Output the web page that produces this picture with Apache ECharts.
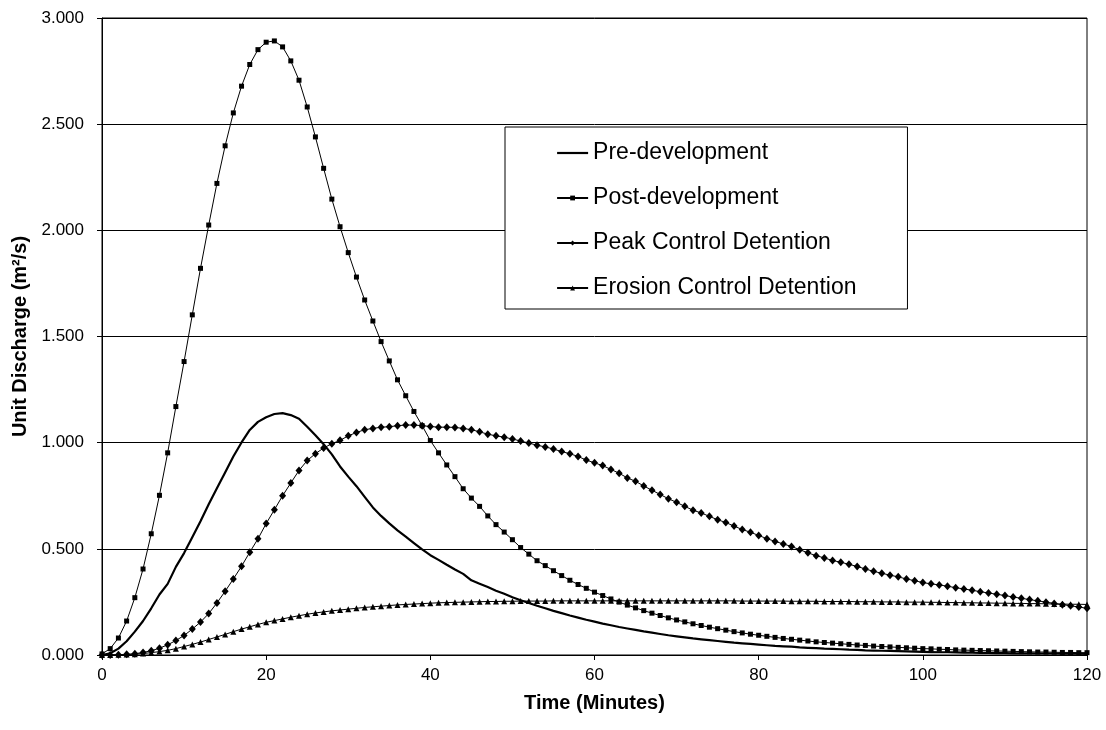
<!DOCTYPE html>
<html>
<head>
<meta charset="utf-8">
<script src="https://cdn.jsdelivr.net/npm/echarts@6/dist/echarts.min.js"></script>
<style>
html, body { margin: 0; padding: 0; background: #fff; }
#chart { width: 1106px; height: 730px; }
</style>
</head>
<body>
<div id="chart"></div>
<script>
// minutes 0..120, one reading per minute
var minutes = [];
for (var m = 0; m <= 120; m++) minutes.push(m);

var seriesNames = ['Pre-development', 'Post-development', 'Peak Control Detention', 'Erosion Control Detention'];

var preDev = [
    0.000, 0.008, 0.030, 0.065, 0.110, 0.160, 0.220, 0.285, 0.335, 0.415,
    0.480, 0.555, 0.630, 0.710, 0.785, 0.860, 0.935, 1.001, 1.060, 1.098,
    1.120, 1.135, 1.139, 1.130, 1.113, 1.075, 1.035, 0.993, 0.945, 0.888,
    0.840, 0.795, 0.745, 0.695, 0.655, 0.620, 0.587, 0.557, 0.527, 0.497,
    0.470, 0.448, 0.425, 0.403, 0.382, 0.352, 0.336, 0.320, 0.303, 0.288,
    0.272, 0.258, 0.245, 0.232, 0.220, 0.208, 0.197, 0.186, 0.176, 0.166,
    0.157, 0.148, 0.140, 0.132, 0.125, 0.118, 0.111, 0.105, 0.099, 0.093,
    0.088, 0.083, 0.078, 0.074, 0.070, 0.066, 0.062, 0.058, 0.055, 0.052,
    0.049, 0.046, 0.043, 0.041, 0.039, 0.036, 0.034, 0.032, 0.030, 0.029,
    0.027, 0.025, 0.024, 0.022, 0.021, 0.020, 0.019, 0.018, 0.017, 0.016,
    0.015, 0.014, 0.013, 0.013, 0.012, 0.011, 0.011, 0.010, 0.010, 0.009,
    0.009, 0.008, 0.008, 0.008, 0.007, 0.007, 0.007, 0.006, 0.006, 0.006,
    0.005
];

var postDev = [
    0.005, 0.030, 0.080, 0.160, 0.270, 0.405, 0.571, 0.752, 0.952, 1.170,
    1.382, 1.602, 1.821, 2.025, 2.221, 2.398, 2.553, 2.679, 2.781, 2.851,
    2.886, 2.892, 2.864, 2.798, 2.707, 2.581, 2.440, 2.292, 2.147, 2.017,
    1.895, 1.780, 1.672, 1.573, 1.476, 1.385, 1.296, 1.221, 1.147, 1.080,
    1.010, 0.952, 0.895, 0.840, 0.783, 0.739, 0.700, 0.655, 0.614, 0.579,
    0.543, 0.506, 0.475, 0.444, 0.421, 0.397, 0.374, 0.352, 0.332, 0.314,
    0.296, 0.280, 0.264, 0.249, 0.235, 0.222, 0.209, 0.197, 0.186, 0.175,
    0.165, 0.156, 0.147, 0.139, 0.131, 0.124, 0.117, 0.110, 0.104, 0.098,
    0.093, 0.088, 0.083, 0.078, 0.074, 0.070, 0.066, 0.062, 0.059, 0.056,
    0.053, 0.050, 0.047, 0.045, 0.042, 0.040, 0.038, 0.036, 0.034, 0.032,
    0.030, 0.029, 0.027, 0.026, 0.024, 0.023, 0.022, 0.021, 0.020, 0.019,
    0.018, 0.017, 0.016, 0.015, 0.014, 0.014, 0.013, 0.012, 0.012, 0.011,
    0.011
];

var peakControl = [
    0.000, 0.000, 0.001, 0.003, 0.006, 0.012, 0.020, 0.032, 0.048, 0.068,
    0.092, 0.122, 0.155, 0.195, 0.245, 0.300, 0.358, 0.418, 0.484, 0.547,
    0.619, 0.684, 0.750, 0.810, 0.869, 0.916, 0.948, 0.975, 0.995, 1.011,
    1.032, 1.048, 1.061, 1.067, 1.073, 1.075, 1.080, 1.083, 1.083, 1.080,
    1.076, 1.073, 1.073, 1.072, 1.067, 1.061, 1.051, 1.040, 1.032, 1.026,
    1.017, 1.008, 0.998, 0.988, 0.980, 0.970, 0.958, 0.948, 0.935, 0.918,
    0.905, 0.892, 0.874, 0.856, 0.834, 0.818, 0.796, 0.776, 0.756, 0.736,
    0.719, 0.700, 0.682, 0.669, 0.653, 0.637, 0.624, 0.607, 0.591, 0.578,
    0.563, 0.548, 0.535, 0.523, 0.511, 0.496, 0.481, 0.468, 0.457, 0.445,
    0.437, 0.427, 0.417, 0.405, 0.394, 0.385, 0.376, 0.368, 0.358, 0.350,
    0.341, 0.335, 0.330, 0.324, 0.317, 0.311, 0.305, 0.298, 0.292, 0.286,
    0.280, 0.273, 0.267, 0.261, 0.255, 0.249, 0.243, 0.237, 0.232, 0.226,
    0.220
];

var erosionControl = [
    0.000, 0.000, 0.001, 0.002, 0.004, 0.007, 0.011, 0.016, 0.022, 0.030,
    0.040, 0.050, 0.061, 0.073, 0.085, 0.097, 0.110, 0.122, 0.133, 0.144,
    0.154, 0.162, 0.170, 0.178, 0.185, 0.192, 0.198, 0.203, 0.208, 0.212,
    0.216, 0.220, 0.224, 0.227, 0.230, 0.233, 0.236, 0.238, 0.240, 0.242,
    0.244, 0.246, 0.247, 0.248, 0.249, 0.250, 0.251, 0.252, 0.252, 0.253,
    0.253, 0.254, 0.254, 0.254, 0.254, 0.255, 0.255, 0.255, 0.255, 0.255,
    0.255, 0.255, 0.255, 0.255, 0.255, 0.255, 0.255, 0.255, 0.255, 0.255,
    0.255, 0.255, 0.255, 0.255, 0.255, 0.255, 0.255, 0.255, 0.254, 0.254,
    0.254, 0.254, 0.254, 0.254, 0.253, 0.253, 0.253, 0.253, 0.252, 0.252,
    0.252, 0.252, 0.251, 0.251, 0.251, 0.250, 0.250, 0.250, 0.249, 0.249,
    0.249, 0.248, 0.248, 0.247, 0.247, 0.246, 0.246, 0.245, 0.245, 0.244,
    0.244, 0.243, 0.243, 0.242, 0.242, 0.241, 0.240, 0.240, 0.239, 0.239,
    0.238
];

function pairs(arr) {
    return arr.map(function (v, i) { return [minutes[i], v]; });
}

var chartDom = document.getElementById('chart');
var myChart = echarts.init(chartDom);
var option;

var font = 'Liberation Sans, Arial, sans-serif';

option = {
    backgroundColor: '#fff',
    animation: false,
    grid: {
        left: 102,
        right: 19,
        top: 18,
        bottom: 75,
        show: true,
        borderColor: '#000',
        borderWidth: 1
    },
    legend: {
        orient: 'vertical',
        left: 505,
        top: 127,
        padding: [13, 51, 8, 51],
        backgroundColor: '#fff',
        borderColor: '#000',
        borderWidth: 1,
        borderRadius: 0,
        itemWidth: 31,
        itemHeight: 6,
        itemGap: 19,
        textStyle: {
            fontFamily: font,
            fontSize: 23,
            lineHeight: 26,
            color: '#000'
        },
        data: [
            { name: seriesNames[0], itemStyle: { opacity: 0 }, lineStyle: { width: 2.2 } },
            seriesNames[1],
            seriesNames[2],
            seriesNames[3]
        ]
    },
    xAxis: {
        type: 'value',
        min: 0,
        max: 120,
        interval: 20,
        name: 'Time (Minutes)',
        nameLocation: 'middle',
        nameGap: 38,
        nameTextStyle: { fontFamily: font, fontSize: 20, fontWeight: 'bold', color: '#000' },
        axisLine: { lineStyle: { color: '#000', width: 1 } },
        axisTick: { show: true, length: 5, lineStyle: { color: '#000' } },
        axisLabel: { fontFamily: font, fontSize: 17, color: '#000', margin: 12 },
        splitLine: { show: false }
    },
    yAxis: {
        type: 'value',
        min: 0,
        max: 3,
        interval: 0.5,
        name: 'Unit Discharge (m²/s)',
        nameLocation: 'middle',
        nameGap: 67,
        nameTextStyle: { fontFamily: font, fontSize: 20, fontWeight: 'bold', color: '#000' },
        axisLine: { show: true, lineStyle: { color: '#000', width: 1 } },
        axisTick: { show: true, length: 5, lineStyle: { color: '#000' } },
        axisLabel: {
            fontFamily: font, fontSize: 17, color: '#000', margin: 18,
            formatter: function (v) { return v.toFixed(3); }
        },
        splitLine: { show: true, lineStyle: { color: '#000', width: 1 } }
    },
    series: [
        {
            name: seriesNames[0],
            type: 'line',
            data: pairs(preDev),
            symbol: 'none',
            lineStyle: { color: '#000', width: 2.2 },
            itemStyle: { color: '#000' },
            z: 3
        },
        {
            name: seriesNames[1],
            type: 'line',
            data: pairs(postDev),
            symbol: 'rect',
            symbolSize: 5,
            showAllSymbol: true,
            lineStyle: { color: '#000', width: 1 },
            itemStyle: { color: '#000' }
        },
        {
            name: seriesNames[2],
            type: 'line',
            data: pairs(peakControl),
            symbol: 'diamond',
            symbolSize: [7, 8],
            showAllSymbol: true,
            lineStyle: { color: '#000', width: 1 },
            itemStyle: { color: '#000' }
        },
        {
            name: seriesNames[3],
            type: 'line',
            data: pairs(erosionControl),
            symbol: 'triangle',
            symbolSize: 6,
            showAllSymbol: true,
            lineStyle: { color: '#000', width: 1 },
            itemStyle: { color: '#000' }
        }
    ]
};

option && myChart.setOption(option);
window.addEventListener("resize", function () {
    myChart.resize();
});
</script>
</body>
</html>
